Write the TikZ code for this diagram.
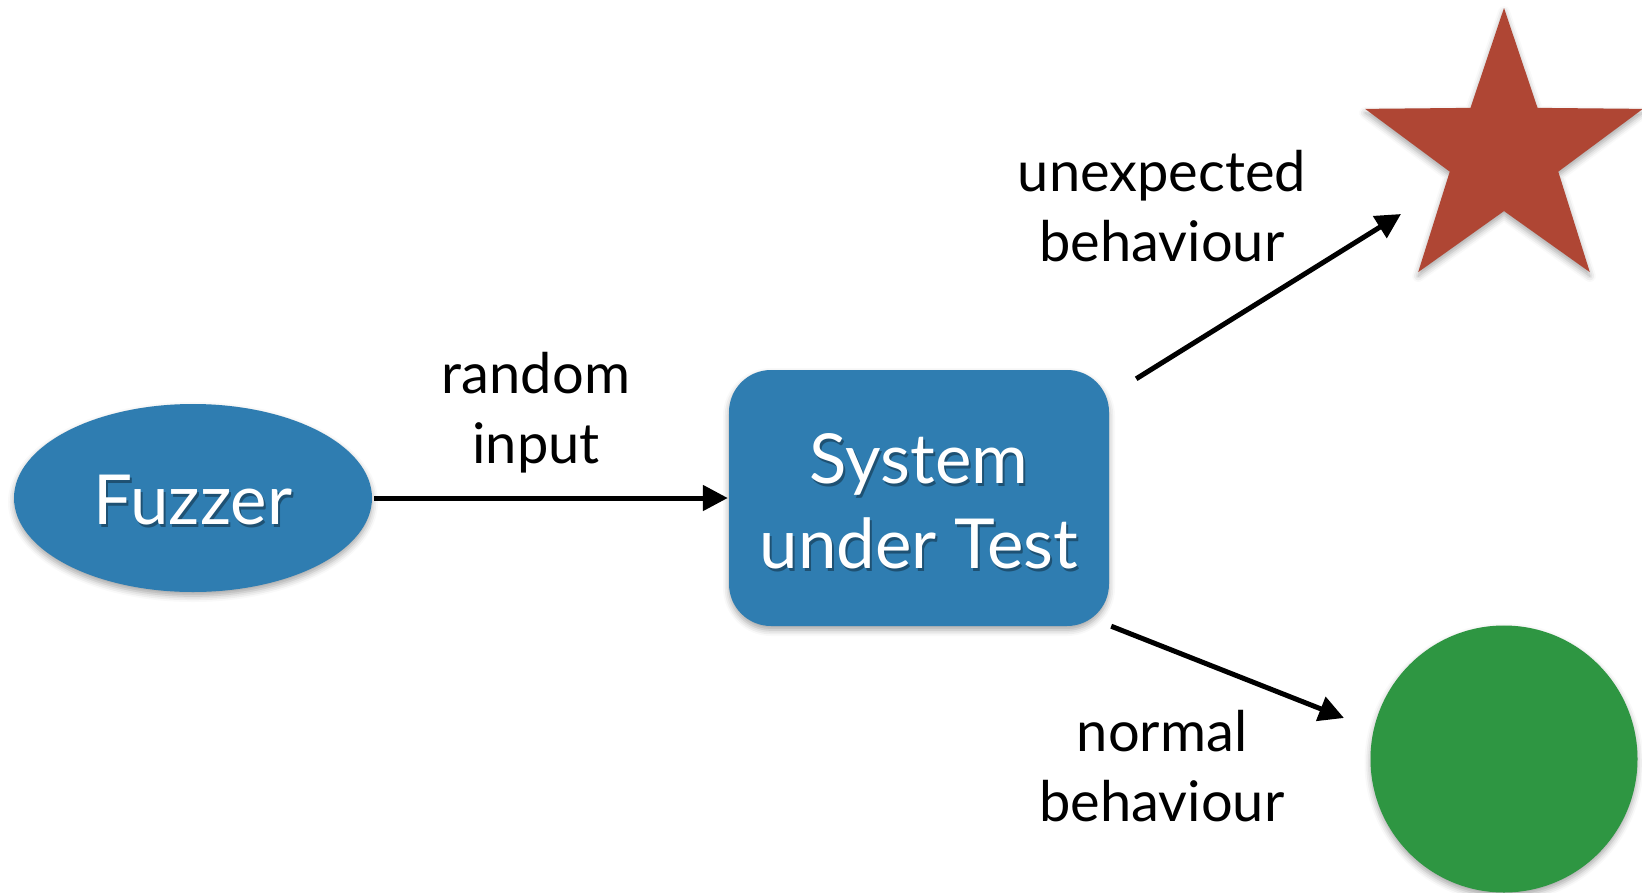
\documentclass[tikz,border=0pt]{standalone}
\usepackage{fontspec}
\setmainfont{Lato}
\usetikzlibrary{shapes.geometric,arrows.meta,shadows.blur}

\definecolor{boxblue}{HTML}{2F7DB1}
\definecolor{starred}{HTML}{AF4634}
\definecolor{okgreen}{HTML}{2E9642}

\tikzset{
  softshadow/.style={blur shadow={shadow xshift=0pt,shadow yshift=-4pt,
      shadow blur radius=6pt,shadow opacity=35}},
  bluething/.style={fill=boxblue,draw=none,softshadow,inner sep=0pt},
  arr/.style={line width=5pt,-{Triangle[length=25pt,width=25pt]}},
  lbl/.style={align=center,font=\fontsize{56}{70}\selectfont,inner sep=0pt},
  whitetext/.style={align=center,font=\fontsize{69}{85}\selectfont,text=white,inner sep=0pt},
  shadowtext/.style={align=center,font=\fontsize{69}{85}\selectfont,text=black,text opacity=0.35,inner sep=0pt},
}

\begin{document}
\begin{tikzpicture}[x=1pt,y=-1pt]
  \useasboundingbox (0,0) rectangle (1642,892);

  % shapes
  \node[bluething,ellipse,minimum width=358pt,minimum height=188pt] (fuzzer) at (193,498) {};
  \node[bluething,rectangle,rounded corners=42pt,minimum width=380pt,minimum height=256pt] (sut) at (919,498) {};
  \node[star,star points=5,star point ratio=2.56,minimum size=292pt,inner sep=0pt,
        fill=starred,draw=none,softshadow] (crash) at (1504,154) {};
  \node[circle,minimum size=267pt,inner sep=0pt,fill=okgreen,draw=none,softshadow] (ok) at (1504,759) {};

  % white captions with a faint drop shadow
  \node[shadowtext] at ([xshift=2pt,yshift=-5pt]fuzzer.center) {Fuzzer};
  \node[whitetext] (fuzzertxt) at ([yshift=-2pt]fuzzer.center) {Fuzzer};
  \node[shadowtext] at ([xshift=2pt,yshift=-6pt]sut.center) {System\\under Test};
  \node[whitetext] (suttxt) at ([yshift=-3pt]sut.center) {System\\under Test};

  % connectors
  \draw[arr,shorten <=2pt,shorten >=1pt] (fuzzer.east) -- (sut.west);
  \draw[arr] ([xshift=27pt,yshift=-9pt]sut.north east) -- ([xshift=-103pt,yshift=-60pt]crash.center);
  \draw[arr] ([xshift=2pt]sut.south east) -- ([xshift=-160pt,yshift=41pt]ok.center);

  % connector labels
  \node[lbl] (lin) at (536,413) {random\\input};
  \node[lbl] (lup) at (1162,206) {unexpected\\behaviour};
  \node[lbl] (ldown) at (1162,766) {normal\\behaviour};
\end{tikzpicture}
\end{document}
